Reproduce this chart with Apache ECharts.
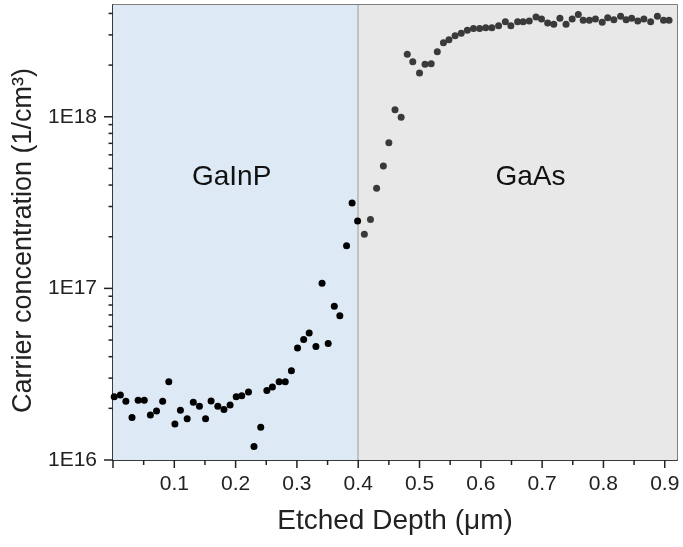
<!DOCTYPE html>
<html><head><meta charset="utf-8">
<script src="https://cdn.jsdelivr.net/npm/echarts@6/dist/echarts.min.js"></script>
<style>html,body{margin:0;padding:0;background:#fff}#c{width:683px;height:547px}</style>
</head><body><div id="c"></div>
<script>
const xGaInP = [0.002,0.012,0.021,0.031,0.041,0.051,0.061,0.071,0.081,0.091,0.101,0.110,0.121,0.131,0.141,0.151,0.160,0.171,0.181,0.191,0.201,0.210,0.221,0.230,0.241,0.251,0.260,0.271,0.281,0.291,0.301,0.311,0.320,0.331,0.341,0.351,0.361,0.370,0.381,0.390,0.399];
const yGaInP = [2.34e16,2.39e16,2.20e16,1.77e16,2.23e16,2.23e16,1.83e16,1.93e16,2.20e16,2.86e16,1.62e16,1.95e16,1.74e16,2.17e16,2.06e16,1.74e16,2.21e16,2.06e16,1.97e16,2.09e16,2.34e16,2.37e16,2.49e16,1.20e16,1.55e16,2.54e16,2.66e16,2.86e16,2.86e16,3.31e16,4.49e16,5.04e16,5.49e16,4.59e16,1.07e17,4.78e16,7.86e16,6.92e16,1.77e17,3.14e17,2.47e17];
const xGaAs = [0.410,0.420,0.430,0.441,0.450,0.460,0.470,0.480,0.489,0.500,0.509,0.519,0.529,0.539,0.548,0.558,0.568,0.578,0.588,0.598,0.608,0.618,0.629,0.640,0.649,0.660,0.669,0.679,0.690,0.699,0.709,0.719,0.729,0.739,0.749,0.759,0.767,0.777,0.787,0.798,0.807,0.817,0.828,0.837,0.846,0.856,0.866,0.877,0.888,0.898,0.907];
const yGaAs = [2.07e17,2.52e17,3.83e17,5.16e17,7.06e17,1.10e18,9.92e17,2.31e18,2.09e18,1.80e18,2.02e18,2.04e18,2.39e18,2.70e18,2.81e18,2.97e18,3.07e18,3.19e18,3.27e18,3.27e18,3.30e18,3.30e18,3.39e18,3.58e18,3.39e18,3.58e18,3.58e18,3.61e18,3.81e18,3.71e18,3.52e18,3.46e18,3.75e18,3.46e18,3.71e18,3.95e18,3.65e18,3.65e18,3.71e18,3.55e18,3.78e18,3.67e18,3.85e18,3.67e18,3.75e18,3.61e18,3.71e18,3.58e18,3.85e18,3.65e18,3.65e18];
const xMajorTicks = [0,0.1,0.2,0.3,0.4,0.5,0.6,0.7,0.8,0.9];
const xMinorTicks = [0.05,0.15,0.25,0.35,0.45,0.55,0.65,0.75,0.85];
const yMajorTicks = [1e16,1e17,1e18];
const yMinorTicks = [2e16,3e16,4e16,5e16,6e16,7e16,8e16,9e16,2e17,3e17,4e17,5e17,6e17,7e17,8e17,9e17,2e18,3e18,4e18];
const regions = [{name:'GaInP', from:0, to:0.4, color:'#dde9f4', labelAt:[0.1935, 4.46e17]},
                 {name:'GaAs', from:0.4, to:0.92, color:'#e8e8e8', labelAt:[0.681, 4.46e17]}];
const xMin = 0, xMax = 0.92, yMin = 1e16, yMax = 4.48e18;
const boundary = 0.4;

const FONT = "'Liberation Sans', Arial, sans-serif";
const chart = echarts.init(document.getElementById('c'));
const pts = (xs, ys) => xs.map((x, i) => [x, ys[i]]);
chart.setOption({
  animation: false,
  grid: {left: 113, right: 6, top: 5, bottom: 87, show: true, borderColor: '#555', borderWidth: 1.5, backgroundColor: 'transparent'},
  xAxis: {type: 'value', min: xMin, max: xMax, interval: 0.1,
    name: 'Etched Depth (\u03bcm)', nameLocation: 'middle', nameGap: 47,
    nameTextStyle: {fontFamily: FONT, fontSize: 28, color: '#222'},
    axisLine: {show: true, lineStyle: {color: '#222', width: 1.5}},
    axisTick: {show: false}, splitLine: {show: false},
    axisLabel: {margin: 14, fontFamily: FONT, fontSize: 21, color: '#222',
      formatter: v => { const r = Math.round(v * 10); return (r > 0 && Math.abs(v * 10 - r) < 1e-6) ? (r / 10).toFixed(1) : ''; }}
  },
  yAxis: {type: 'log', logBase: 10, min: yMin, max: yMax,
    name: 'Carrier concentration (1/cm\u00b3)', nameLocation: 'middle', nameGap: 76,
    nameTextStyle: {fontFamily: FONT, fontSize: 27, color: '#222', padding: [0, 16, 0, 0]},
    axisLine: {show: true, lineStyle: {color: '#222', width: 1.5}},
    axisTick: {show: false}, splitLine: {show: false}, minorTick: {show: false},
    axisLabel: {margin: 16, fontFamily: FONT, fontSize: 21, color: '#222',
      formatter: v => { const e = Math.log10(v); const r = Math.round(e); return Math.abs(e - r) < 1e-6 ? '1E' + r : ''; }}
  },
  series: [
    {type: 'scatter', data: [], z: 1, silent: true,
      markArea: {silent: true, data: regions.map(r => [{xAxis: r.from, itemStyle: {color: r.color}}, {xAxis: r.to}])},
      markLine: {silent: true, symbol: 'none', label: {show: false}, lineStyle: {color: '#b5b5b5', width: 1.5, type: 'solid'}, data: [{xAxis: boundary}]}
    },
    {type: 'scatter', name: 'GaInP', z: 5, symbolSize: 7, itemStyle: {color: '#000', opacity: 1}, data: pts(xGaInP, yGaInP)},
    {type: 'scatter', name: 'GaAs', z: 5, symbolSize: 7, itemStyle: {color: '#3a3a3a', opacity: 1}, data: pts(xGaAs, yGaAs)}
  ]
});

const px = (x, y) => chart.convertToPixel({gridIndex: 0}, [x, y]);
const g = [];
const tickStyle = {stroke: '#222', lineWidth: 1.5};
xMajorTicks.forEach(x => { const p = px(x, yMin); g.push({type: 'line', shape: {x1: p[0], y1: p[1], x2: p[0], y2: p[1] + 8}, style: tickStyle, z: 10}); });
xMinorTicks.forEach(x => { const p = px(x, yMin); g.push({type: 'line', shape: {x1: p[0], y1: p[1], x2: p[0], y2: p[1] + 5}, style: tickStyle, z: 10}); });
yMajorTicks.forEach(y => { const p = px(xMin, y); g.push({type: 'line', shape: {x1: p[0] - 9, y1: p[1], x2: p[0], y2: p[1]}, style: tickStyle, z: 10}); });
yMinorTicks.forEach(y => { const p = px(xMin, y); g.push({type: 'line', shape: {x1: p[0] - 4.5, y1: p[1], x2: p[0], y2: p[1]}, style: tickStyle, z: 10}); });
regions.forEach(r => { const p = px(r.labelAt[0], r.labelAt[1]);
  g.push({type: 'text', x: p[0], y: p[1], z: 10, style: {text: r.name, fontFamily: FONT, fontSize: 28, fill: '#111', align: 'center', verticalAlign: 'middle'}}); });
chart.setOption({graphic: g});
</script></body></html>
